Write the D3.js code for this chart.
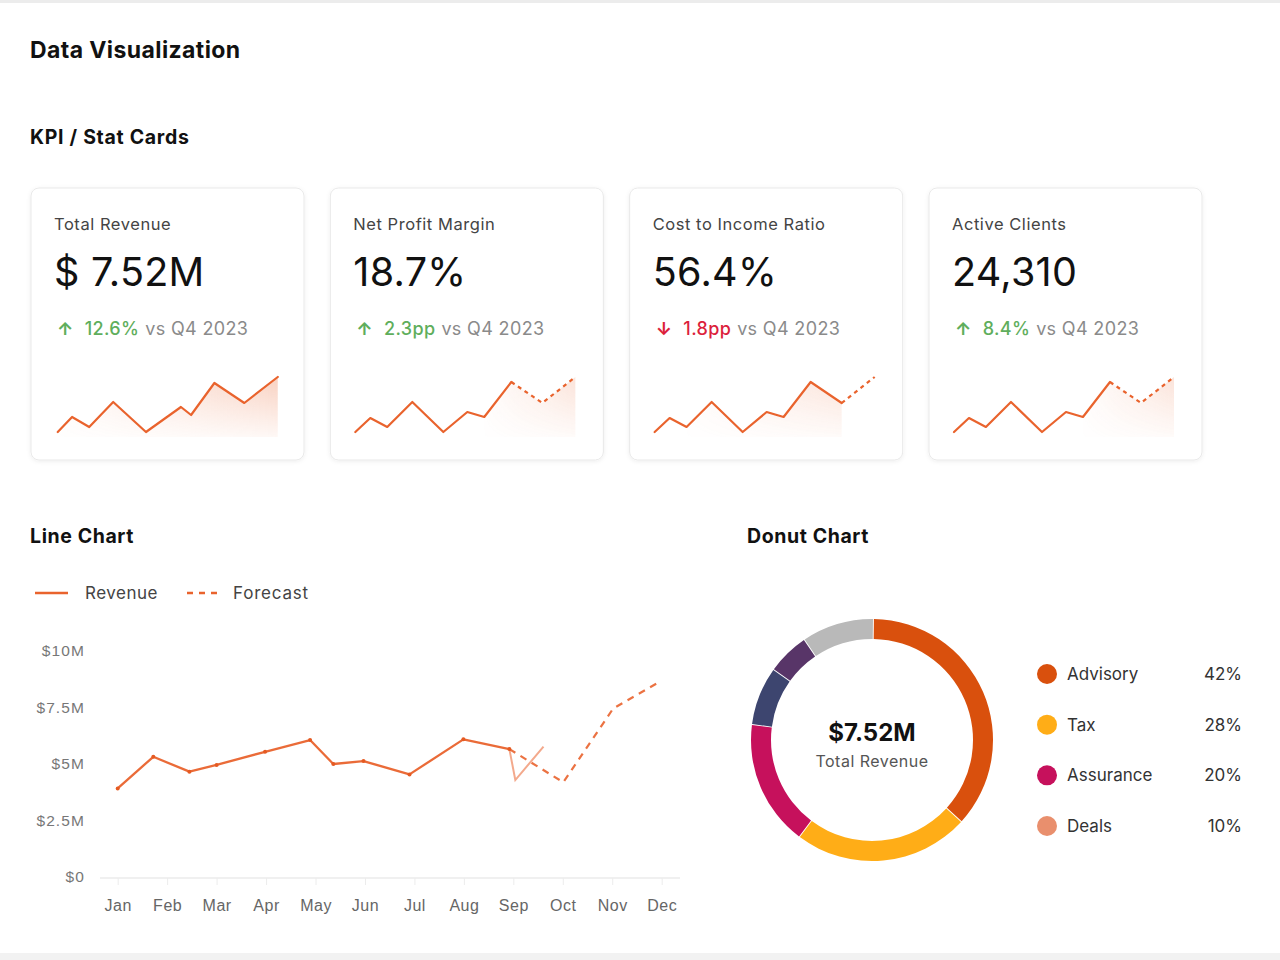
<!DOCTYPE html>
<html><head><meta charset="utf-8">
<script src="https://cdn.jsdelivr.net/npm/d3@7"></script>
<style>
body{margin:0;background:#fff;}
svg{display:block;font-family:Inter,"Liberation Sans",Arial,sans-serif;}
</style>
</head><body>
<svg id="chart" width="1280" height="960"></svg>
<script>
// ---------- data ----------
const kpiLabels = ["Total Revenue", "Net Profit Margin", "Cost to Income Ratio", "Active Clients"];
const kpiValues = ["$ 7.52M", "18.7%", "56.4%", "24,310"];
const kpiDeltas = ["12.6%", "2.3pp", "1.8pp", "8.4%"];
const kpiDirections = ["up", "up", "down", "up"];
const kpiCompare = "vs Q4 2023";

// sparkline points (t = position along the card's 0..10 period, v = relative level)
const sparkT = [0, 0.68, 1.45, 2.59, 4.0, 5.09, 5.86, 7.09, 8.5, 10];
const sparkV = [0, 14, 5, 30, 0, 20, 15, 50, 29, 55];
const sparkT1 = [0.08, 0.73, 1.51, 2.6, 4.09, 5.68, 6.14, 7.2, 8.56, 10.08];
const sparkV1 = [0, 15, 5, 30, 0, 25, 17, 49, 29, 55];
const sparkSolidEnd = [9, 7, 8, 7];
const sparkAreaStart = [0, 6, 2, 6];
const sparkAreaEnd = [9, 9, 8, 9];

const months = ["Jan", "Feb", "Mar", "Apr", "May", "Jun", "Jul", "Aug", "Sep", "Oct", "Nov", "Dec"];
const yTickValues = [0, 2.5, 5, 7.5, 10];
const yTickLabels = ["$0", "$2.5M", "$5M", "$7.5M", "$10M"];
const revenueMonth = [0, 0.72, 1.45, 2.0, 2.98, 3.89, 4.36, 4.97, 5.90, 6.99, 7.92];
const revenueValue = [3.92, 5.32, 4.66, 4.96, 5.54, 6.06, 5.0, 5.13, 4.54, 6.09, 5.66];
const revenueTailMonth = [7.92, 8.04, 8.61];
const revenueTailValue = [5.66, 4.29, 5.77];
const forecastMonth = [7.92, 9.01, 10.02, 10.93];
const forecastValue = [5.66, 4.19, 7.46, 8.60];

const donutValues = [36.7, 23.5, 16.8, 7.8, 5.6, 9.6];
const donutColors = ["#d9500d", "#ffad17", "#c6115c", "#3d456f", "#583568", "#b9b9b9"];
const donutCenterValue = "$7.52M";
const donutCenterLabel = "Total Revenue";
const legendLabels = ["Advisory", "Tax", "Assurance", "Deals"];
const legendShares = ["42%", "28%", "20%", "10%"];
const legendColors = ["#d9500d", "#ffad17", "#c6115c", "#e98f6d"];

// ---------- styles ----------
const ORANGE = "#e9632d";
const GREEN = "#5fae5c";
const RED = "#dc1f3c";
const svg = d3.select("#chart");
const defs = svg.append("defs");

const sh = defs.append("filter").attr("id", "shadow").attr("x", "-10%").attr("y", "-10%").attr("width", "120%").attr("height", "120%");
sh.append("feDropShadow").attr("dx", 0).attr("dy", 1).attr("stdDeviation", 2).attr("flood-color", "#000").attr("flood-opacity", 0.07);

const hg = defs.append("linearGradient").attr("id", "hfill").attr("x1", 0).attr("x2", 1).attr("y1", 0).attr("y2", 0);
hg.append("stop").attr("offset", "0%").attr("stop-color", ORANGE).attr("stop-opacity", 0.03);
hg.append("stop").attr("offset", "100%").attr("stop-color", ORANGE).attr("stop-opacity", 0.3);
const vg = defs.append("linearGradient").attr("id", "vfade").attr("x1", 0).attr("x2", 0).attr("y1", 0).attr("y2", 1);
vg.append("stop").attr("offset", "0%").attr("stop-color", "#fff");
vg.append("stop").attr("offset", "100%").attr("stop-color", "#222");

// page frame
svg.append("rect").attr("x", 0).attr("y", 0).attr("width", 1280).attr("height", 3).attr("fill", "#ececec");
svg.append("rect").attr("x", 0).attr("y", 953).attr("width", 1280).attr("height", 7).attr("fill", "#f2f2f2");

// headings
function heading(x, yb, size, ls, txt) {
  svg.append("text").attr("x", x).attr("y", yb).attr("font-size", size).attr("font-weight", 700)
    .attr("letter-spacing", ls).attr("fill", "#111").text(txt);
}
heading(30, 58, 23, 0.4, "Data Visualization");
heading(30, 144, 19.5, 0.7, "KPI / Stat Cards");
heading(30, 543, 19.5, 0.6, "Line Chart");
heading(747, 543, 19.5, 0.6, "Donut Chart");

// ---------- KPI cards ----------
const cardX = d3.scaleLinear().domain([0, 3]).range([31, 929]);
const cardW = 273, cardY = 188, cardH = 272;

kpiLabels.forEach((lab, i) => {
  const x0 = cardX(i);
  const g = svg.append("g");
  g.append("rect").attr("x", x0).attr("y", cardY).attr("width", cardW).attr("height", cardH)
    .attr("rx", 8).attr("fill", "#fff").attr("stroke", "#e9e9e9").attr("filter", "url(#shadow)");
  g.append("text").attr("x", x0 + 23).attr("y", 230).attr("font-size", 16.5).attr("letter-spacing", 0.55)
    .attr("fill", "#444").text(lab);
  g.append("text").attr("x", x0 + 23).attr("y", 286).attr("font-size", 39.5).attr("letter-spacing", 0.3)
    .attr("fill", "#111").text(kpiValues[i]);
  const up = kpiDirections[i] === "up";
  const t = g.append("text").attr("x", x0 + 26).attr("y", 335).attr("font-size", 18).attr("letter-spacing", 0.35);
  t.append("tspan").attr("fill", up ? GREEN : RED).attr("font-weight", 700).text(up ? "↑" : "↓");
  t.append("tspan").attr("dx", 11).attr("fill", up ? GREEN : RED).attr("font-weight", 500).text(kpiDeltas[i]);
  t.append("tspan").attr("dx", 6).attr("fill", "#8a8a8a").text(kpiCompare);

  const T = i === 0 ? sparkT1 : sparkT;
  const V = i === 0 ? sparkV1 : sparkV;
  const pts = T.map((tt, k) => [tt, V[k]]);
  const sx = d3.scaleLinear().domain([0, 10]).range([x0 + 25, x0 + 245]);
  const sy = d3.scaleLinear().domain([0, 55]).range([432, 377]);
  const area = d3.area().x(d => sx(d[0])).y0(437).y1(d => sy(d[1]));
  const line = d3.line().x(d => sx(d[0])).y(d => sy(d[1]));

  const mid = "m" + i;
  const m = defs.append("mask").attr("id", mid);
  m.append("rect").attr("x", x0).attr("y", 376).attr("width", cardW).attr("height", 62).attr("fill", "url(#vfade)");
  const areaPts = pts.slice(sparkAreaStart[i], sparkAreaEnd[i] + 1);
  g.append("path").attr("d", area(areaPts)).attr("fill", "url(#hfill)")
    .attr("opacity", i === 0 ? 1 : 0.6).attr("mask", `url(#${mid})`);

  g.append("path").attr("d", line(pts.slice(0, sparkSolidEnd[i] + 1)))
    .attr("fill", "none").attr("stroke", ORANGE).attr("stroke-width", 2.2).attr("stroke-linejoin", "round").attr("stroke-linecap", "round");
  if (sparkSolidEnd[i] < pts.length - 1) {
    g.append("path").attr("d", line(pts.slice(sparkSolidEnd[i])))
      .attr("fill", "none").attr("stroke", ORANGE).attr("stroke-width", 2.2).attr("stroke-dasharray", "4,4");
  }
});

// ---------- line chart ----------
const x = d3.scaleLinear().domain([0, 11]).range([117.7, 661.7]);
const y = d3.scaleLinear().domain([0, 10]).range([877, 651]);

// legend
const lg = svg.append("g");
lg.append("line").attr("x1", 35).attr("x2", 68).attr("y1", 593).attr("y2", 593).attr("stroke", ORANGE).attr("stroke-width", 2.5);
lg.append("text").attr("x", 85).attr("y", 599).attr("font-size", 17).attr("letter-spacing", 0.5).attr("fill", "#444").text("Revenue");
lg.append("line").attr("x1", 187).attr("x2", 219).attr("y1", 593).attr("y2", 593).attr("stroke", ORANGE).attr("stroke-width", 2.5).attr("stroke-dasharray", "6,6");
lg.append("text").attr("x", 233).attr("y", 599).attr("font-size", 17).attr("letter-spacing", 0.8).attr("fill", "#444").text("Forecast");

// axes
const xAxis = svg.append("g").attr("transform", "translate(0,878)")
  .call(d3.axisBottom(x).tickValues(d3.range(12)).tickFormat(i => months[i]).tickSize(7).tickPadding(15));
xAxis.select(".domain").remove();
xAxis.insert("line", ":first-child").attr("x1", 100).attr("x2", 680).attr("stroke", "#ebebeb").attr("stroke-width", 1.5);
xAxis.selectAll(".tick line").attr("stroke", "#ececec");
xAxis.selectAll(".tick text").attr("font-size", 16).attr("letter-spacing", 0.5).attr("fill", "#666").attr("font-family", null);

const yAxis = svg.append("g").attr("transform", "translate(85,0)")
  .call(d3.axisLeft(y).tickValues(yTickValues).tickFormat((d, i) => yTickLabels[i]).tickSize(0).tickPadding(0));
yAxis.select(".domain").remove();
yAxis.selectAll(".tick text").attr("font-size", 15.5).attr("letter-spacing", 1.1).attr("fill", "#777").attr("font-family", null);

const rl = d3.line().x(d => x(d[0])).y(d => y(d[1]));
const revPts = revenueMonth.map((m, i) => [m, revenueValue[i]]);
const tailPts = revenueTailMonth.map((m, i) => [m, revenueTailValue[i]]);
const fcPts = forecastMonth.map((m, i) => [m, forecastValue[i]]);

svg.append("path").attr("d", rl(tailPts)).attr("fill", "none").attr("stroke", ORANGE)
  .attr("stroke-width", 2).attr("opacity", 0.55);
svg.append("path").attr("d", rl(fcPts)).attr("fill", "none").attr("stroke", ORANGE)
  .attr("stroke-width", 2.2).attr("stroke-dasharray", "7,6").attr("opacity", 0.9);
svg.append("path").attr("d", rl(revPts)).attr("fill", "none").attr("stroke", ORANGE)
  .attr("stroke-width", 2.3).attr("stroke-linejoin", "round").attr("opacity", 0.95);
svg.append("g").selectAll("circle").data(revPts).join("circle")
  .attr("cx", d => x(d[0])).attr("cy", d => y(d[1])).attr("r", 2).attr("fill", "#e55a22");

// ---------- donut ----------
const cx = 872, cy = 740;
const pie = d3.pie().sort(null).value(d => d).startAngle(0.012).endAngle(Math.PI * 2 + 0.012).padAngle(0.006);
const arc = d3.arc().innerRadius(101).outerRadius(121);
const dg = svg.append("g").attr("transform", `translate(${cx},${cy})`);
dg.selectAll("path").data(pie(donutValues)).join("path")
  .attr("d", arc).attr("fill", (d, i) => donutColors[i]);
dg.append("text").attr("text-anchor", "middle").attr("y", 1).attr("font-size", 24).attr("font-weight", 700).attr("fill", "#111").text(donutCenterValue);
dg.append("text").attr("text-anchor", "middle").attr("y", 27).attr("font-size", 16).attr("letter-spacing", 0.5).attr("fill", "#555").text(donutCenterLabel);

const ly = d3.scaleLinear().domain([0, 3]).range([674, 826]);
const leg = svg.append("g");
legendLabels.forEach((lab, i) => {
  leg.append("circle").attr("cx", 1047).attr("cy", ly(i)).attr("r", 10).attr("fill", legendColors[i]);
  leg.append("text").attr("x", 1067).attr("y", ly(i) + 6).attr("font-size", 17).attr("fill", "#333").text(lab);
  leg.append("text").attr("x", 1242).attr("y", ly(i) + 6).attr("font-size", 17).attr("fill", "#333").attr("text-anchor", "end").text(legendShares[i]);
});
</script>
</body></html>
